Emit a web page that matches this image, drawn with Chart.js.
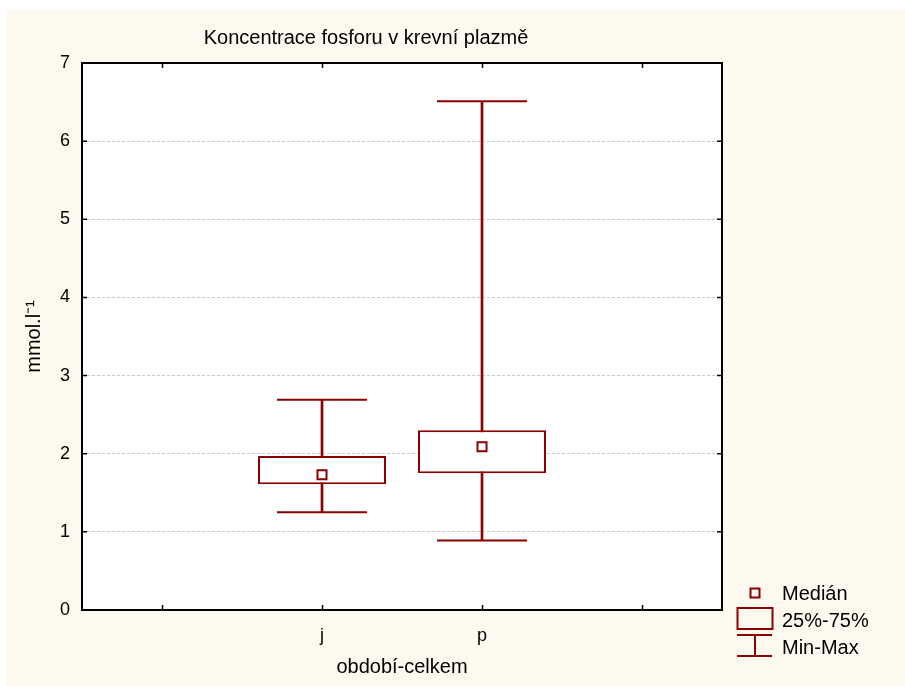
<!DOCTYPE html>
<html>
<head>
<meta charset="utf-8">
<script src="https://cdn.jsdelivr.net/npm/chart.js@4"></script>
<style>
  html, body { margin: 0; padding: 0; background: #fff; }
  #wrap { width: 905px; height: 686px; }
</style>
</head>
<body>
<div id="wrap"><canvas id="box-chart"></canvas></div>
<script>
const categories = ['j', 'p'];
const minVals = [1.25, 0.89];
const q1Vals = [1.61, 1.75];
const medianVals = [1.73, 2.09];
const q3Vals = [1.97, 2.30];
const maxVals = [2.69, 6.51];
const yTicks = [0, 1, 2, 3, 4, 5, 6, 7];

const RED = '#8b0000';
const FONT = '"Liberation Sans", Arial, sans-serif';

Chart.defaults.font.family = FONT;
Chart.defaults.color = '#000';

// one empty slot each side, like the original x axis
const pad = (arr) => [null, ...arr, null];
const axisLabels = ['', ...categories, ''];

const decorPlugin = {
  id: 'decor',
  beforeDraw(chart) {
    const { ctx, chartArea: a } = chart;
    ctx.save();
    ctx.fillStyle = '#fff';
    ctx.fillRect(0, 0, chart.width, chart.height);
    ctx.fillStyle = '#fdf9ef';
    ctx.fillRect(7, 10, chart.width - 7, chart.height - 10);
    ctx.fillStyle = '#fff';
    ctx.fillRect(a.left, a.top, a.right - a.left, a.bottom - a.top);
    ctx.restore();
  },
  afterDraw(chart) {
    const { ctx, chartArea: a, scales } = chart;
    ctx.save();
    // frame
    ctx.strokeStyle = '#000';
    ctx.lineWidth = 2;
    ctx.strokeRect(a.left, a.top, a.right - a.left, a.bottom - a.top);
    // inward tick marks
    ctx.lineWidth = 1.5;
    ctx.beginPath();
    yTicks.forEach((v) => {
      const y = scales.y.getPixelForValue(v);
      ctx.moveTo(a.left, y); ctx.lineTo(a.left + 5, y);
      ctx.moveTo(a.right, y); ctx.lineTo(a.right - 5, y);
    });
    axisLabels.forEach((_, i) => {
      const x = Math.round(scales.x.getPixelForValue(i)) + 0.5;
      ctx.moveTo(x, a.bottom); ctx.lineTo(x, a.bottom - 5);
      ctx.moveTo(x, a.top); ctx.lineTo(x, a.top + 5);
    });
    ctx.stroke();

    // title
    ctx.fillStyle = '#000';
    ctx.font = '20px ' + FONT;
    ctx.textAlign = 'center';
    ctx.textBaseline = 'alphabetic';
    ctx.fillText('Koncentrace fosforu v krevní plazmě', 366, 44);

    // legend
    const lx = a.right + 33;
    ctx.strokeStyle = RED;
    ctx.lineWidth = 2;
    ctx.strokeRect(lx - 4.5, 588.5, 9, 9);
    ctx.strokeRect(lx - 17.5, 608, 35, 21);
    ctx.beginPath();
    ctx.moveTo(lx - 18, 635); ctx.lineTo(lx + 17, 635);
    ctx.moveTo(lx, 635); ctx.lineTo(lx, 656);
    ctx.moveTo(lx - 18, 656); ctx.lineTo(lx + 17, 656);
    ctx.stroke();
    ctx.textAlign = 'left';
    ctx.textBaseline = 'middle';
    ctx.fillText('Medián', a.right + 60, 594);
    ctx.fillText('25%-75%', a.right + 60, 621);
    ctx.fillText('Min-Max', a.right + 60, 648);
    ctx.restore();
  },
};

const config = {
  data: {
    labels: axisLabels,
    datasets: [
      {
        type: 'line',
        label: 'Medián',
        data: pad(medianVals),
        showLine: false,
        pointStyle: 'rect',
        pointRadius: 6.4,
        pointHoverRadius: 6.4,
        borderWidth: 2,
        borderColor: RED,
        backgroundColor: '#fff',
        order: 0,
      },
      {
        type: 'bar',
        label: '25%-75%',
        data: pad(q1Vals.map((q, i) => [q, q3Vals[i]])),
        backgroundColor: '#fff',
        borderColor: RED,
        borderWidth: 2,
        borderSkipped: false,
        barPercentage: 0.8,
        categoryPercentage: 1,
        grouped: false,
        order: 1,
      },
      {
        type: 'bar',
        label: 'Min-Max',
        data: pad(minVals.map((m, i) => [m, maxVals[i]])),
        backgroundColor: RED,
        barThickness: 2,
        grouped: false,
        order: 2,
      },
      {
        type: 'line',
        label: 'Max',
        data: pad(maxVals),
        showLine: false,
        pointStyle: 'line',
        pointRadius: 45,
        pointHoverRadius: 45,
        borderWidth: 2,
        borderColor: RED,
        order: 3,
      },
      {
        type: 'line',
        label: 'Min',
        data: pad(minVals),
        showLine: false,
        pointStyle: 'line',
        pointRadius: 45,
        pointHoverRadius: 45,
        borderWidth: 2,
        borderColor: RED,
        order: 3,
      },
    ],
  },
  options: {
    responsive: true,
    maintainAspectRatio: false,
    animation: false,
    layout: { padding: { top: 63, right: 183, left: 0, bottom: 0 } },
    plugins: {
      legend: { display: false },
      title: { display: false },
      tooltip: { enabled: false },
    },
    scales: {
      x: {
        type: 'category',
        offset: true,
        grid: { display: false },
        border: { display: false },
        ticks: { font: { size: 18 }, padding: 7, autoSkip: false, maxRotation: 0 },
        title: {
          display: true,
          text: 'období-celkem',
          font: { size: 20 },
          padding: { top: 0, bottom: 7 },
        },
        afterFit(scale) { scale.height = 76; },
      },
      y: {
        min: 0,
        max: 7,
        ticks: { stepSize: 1, font: { size: 18 }, padding: 12 },
        grid: {
          color: '#c8c8c8',
          drawTicks: false,
          tickLength: 0,
        },
        border: { display: false, dash: [3, 2] },
        title: {
          display: true,
          text: 'mmol.l⁻¹',
          font: { size: 20 },
          padding: { top: 22, bottom: 0 },
        },
        afterFit(scale) { scale.width = 82; },
      },
    },
  },
  plugins: [decorPlugin],
};

const myChart = new Chart(document.getElementById('box-chart'), config);
</script>
</body>
</html>
